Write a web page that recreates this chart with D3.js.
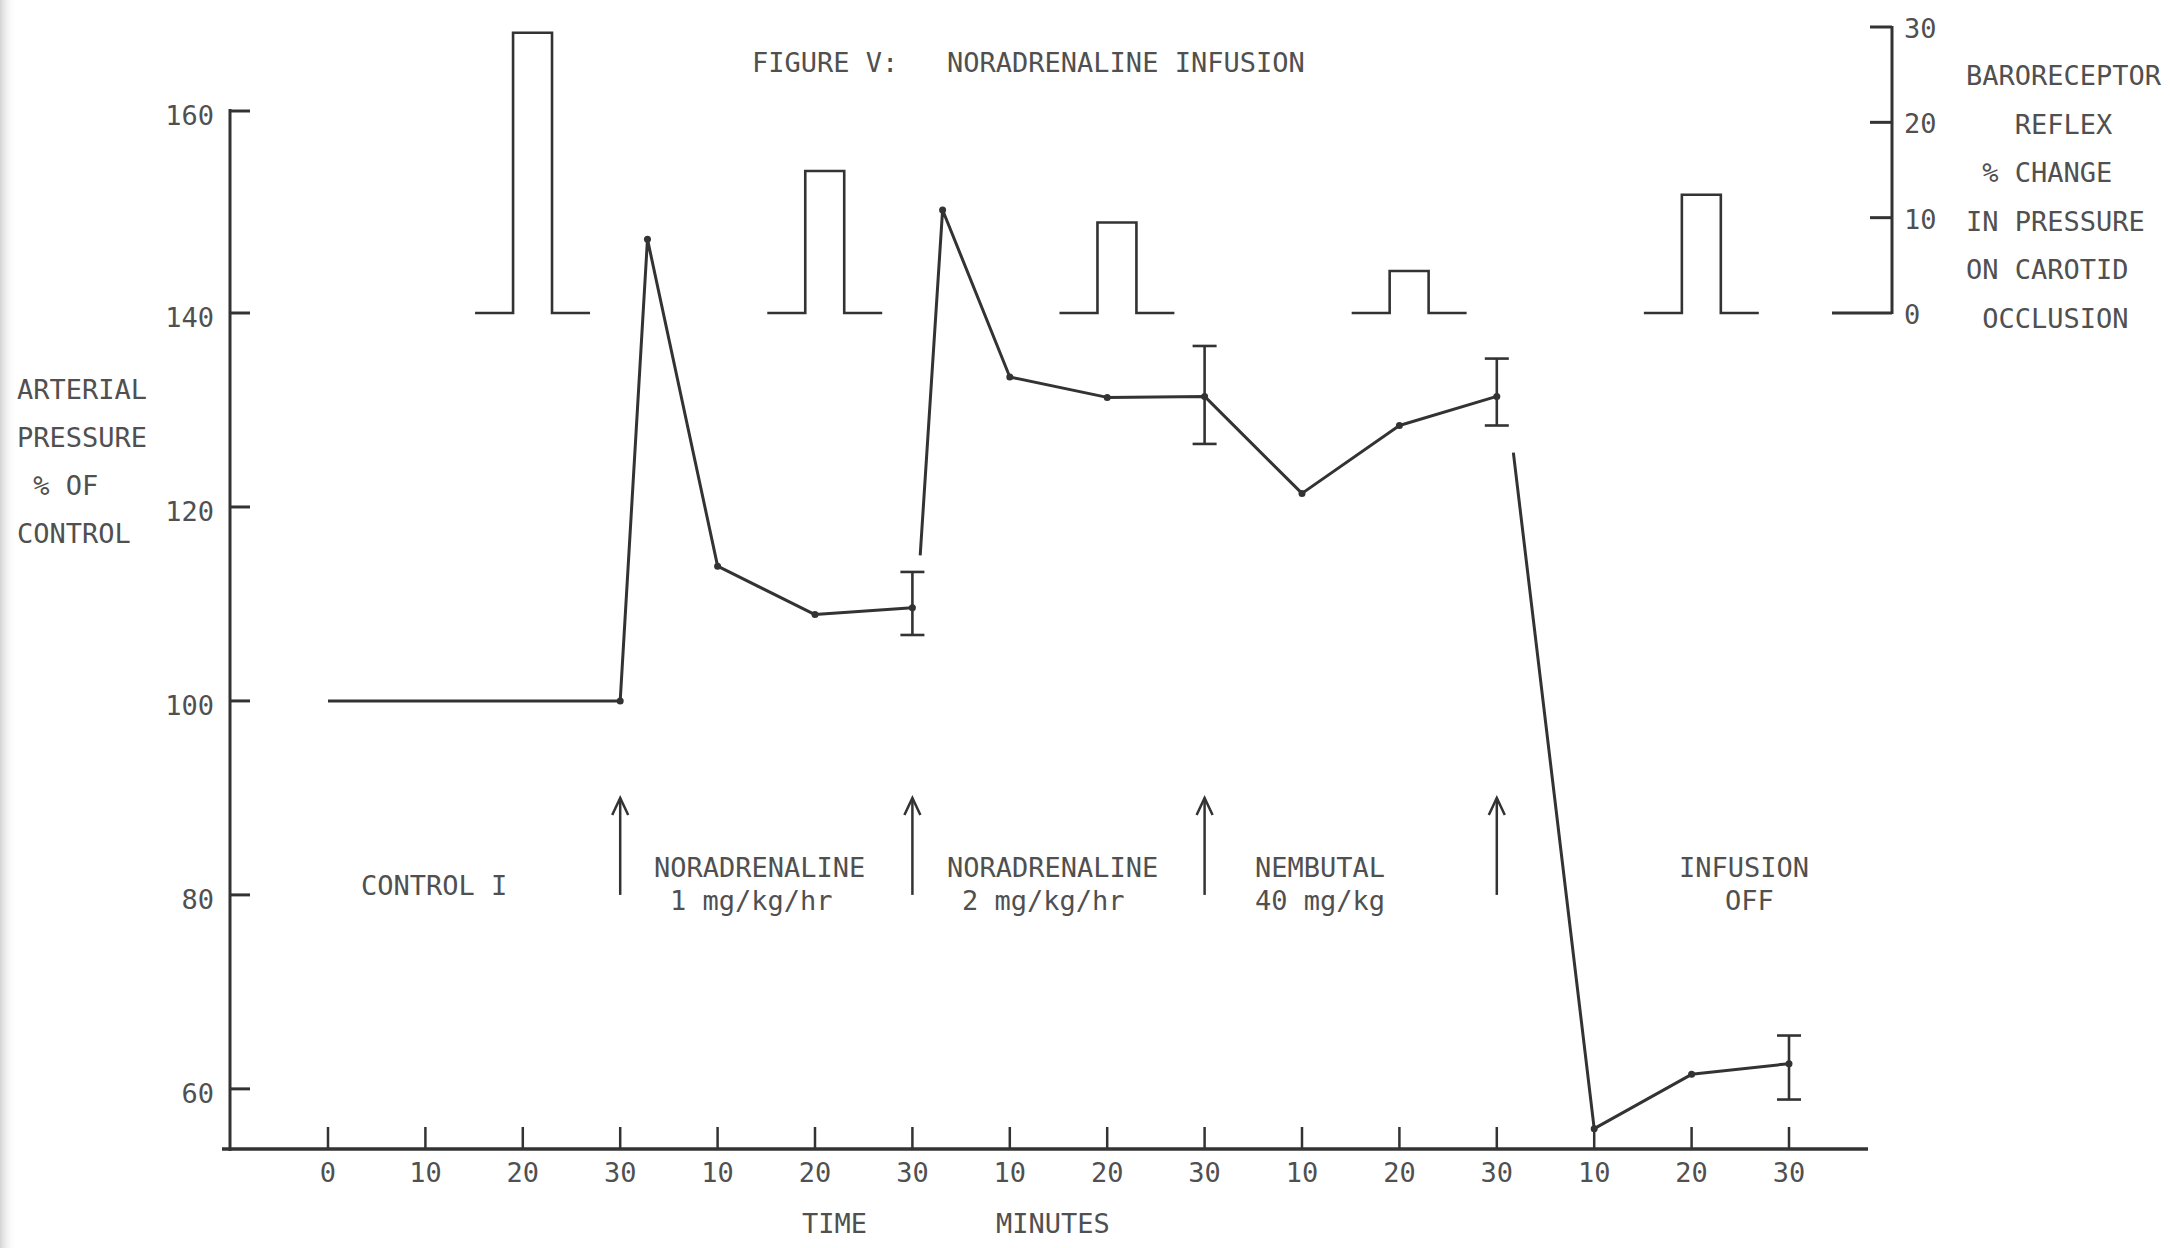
<!DOCTYPE html>
<html>
<head>
<meta charset="utf-8">
<script src="https://cdn.jsdelivr.net/npm/d3@7"></script>
<style>
  html, body { margin: 0; padding: 0; background: #ffffff; }
  svg { display: block; }
  text { font-family: "DejaVu Sans Mono", "Liberation Mono", monospace; font-size: 27px; fill: #505050; white-space: pre; }
</style>
</head>
<body>
<svg id="chart" width="2170" height="1248"></svg>
<script>
// ---- data -------------------------------------------------------------
// time axis: cumulative minutes, each phase labelled 10/20/30 from its start
const timeTicks = [0, 10, 20, 30, 40, 50, 60, 70, 80, 90, 100, 110, 120, 130, 140, 150];
const timeTickLabels = ["0", "10", "20", "30", "10", "20", "30", "10", "20", "30", "10", "20", "30", "10", "20", "30"];

const pressureTicks = [60, 80, 100, 120, 140, 160];
const reflexTicks = [0, 10, 20, 30];

// arterial pressure (% of control), drawn as three separate traces
const controlTrace = [[0, 100], [30, 100], [32.8, 147.3], [40, 113.9], [50, 108.9], [60, 109.6]];
const nor2Trace = [[60.8, 115.0], [63.1, 150.2], [70, 133.4], [80, 131.3], [90, 131.4], [100, 121.4], [110, 128.4], [120, 131.4]];
const offTrace = [[121.7, 125.6], [130, 55.9], [140, 61.5], [150, 62.6]];

// points carrying a small dot
const dotTimes = [30, 32.8, 40, 50, 60, 63.1, 70, 80, 90, 100, 110, 120, 130, 140, 150];

// error bars: time, low, high
const errTimes = [60, 90, 120, 150];
const errLow = [106.8, 126.5, 128.4, 58.9];
const errHigh = [113.3, 136.6, 135.3, 65.5];

// baroreceptor reflex: % change in pressure on carotid occlusion
const reflexTimes = [21, 51, 81, 111, 141];
const reflexValues = [29.4, 14.9, 9.5, 4.4, 12.4];

// infusion changes
const arrowTimes = [30, 60, 90, 120];

const titleText = "FIGURE V:   NORADRENALINE INFUSION";
const leftTitle = ["ARTERIAL", "PRESSURE", " % OF", "CONTROL"];
const rightTitle = ["BARORECEPTOR", "   REFLEX", " % CHANGE", "IN PRESSURE", "ON CAROTID", " OCCLUSION"];
const xTitle = ["TIME", "MINUTES"];

// ---- scales -----------------------------------------------------------
const svg = d3.select("#chart");
const ink = "#333333";

const x = d3.scaleLinear().domain([0, 150]).range([328, 1789]);
// hand-ruled axis: the 140-160 interval is drawn slightly taller
const y = d3.scaleLinear().domain([53.8, 140, 160]).range([1149, 313, 111]);
const yR = d3.scaleLinear().domain([0, 30]).range([313, 27]);

// slight scanner shading along the left edge
const defs = svg.append("defs");
const grad = defs.append("linearGradient").attr("id", "edge").attr("x1", 0).attr("x2", 1);
grad.append("stop").attr("offset", 0).attr("stop-color", "#d4d4d4");
grad.append("stop").attr("offset", 1).attr("stop-color", "#ffffff").attr("stop-opacity", 0);
svg.append("rect").attr("x", 0).attr("y", 0).attr("width", 16).attr("height", 1248).attr("fill", "url(#edge)");

// ---- left axis --------------------------------------------------------
const axisX = 230;
const gLeft = svg.append("g").attr("stroke", ink).attr("stroke-width", 3).attr("fill", "none");
gLeft.append("line").attr("x1", axisX).attr("x2", axisX).attr("y1", y(160) - 2).attr("y2", y(53.8) + 2);
gLeft.selectAll("line.tick").data(pressureTicks).join("line").attr("class", "tick")
  .attr("x1", axisX).attr("x2", axisX + 20)
  .attr("y1", d => y(d)).attr("y2", d => y(d));
svg.selectAll("text.ytick").data(pressureTicks).join("text").attr("class", "ytick")
  .attr("x", 214).attr("y", d => y(d) + 14).attr("text-anchor", "end").text(d => d);

// ---- bottom axis ------------------------------------------------------
const axisY = y(53.8);
const gBot = svg.append("g").attr("stroke", ink).attr("fill", "none");
gBot.append("line").attr("x1", 222).attr("x2", 1868).attr("y1", axisY).attr("y2", axisY).attr("stroke-width", 3.5);
gBot.selectAll("line.tick").data(timeTicks).join("line").attr("class", "tick")
  .attr("x1", d => x(d)).attr("x2", d => x(d))
  .attr("y1", axisY).attr("y2", axisY - 22).attr("stroke-width", 2.5);
svg.selectAll("text.xtick").data(timeTicks).join("text").attr("class", "xtick")
  .attr("x", d => x(d)).attr("y", 1182).attr("text-anchor", "middle")
  .text((d, i) => timeTickLabels[i]);
svg.append("text").attr("x", 802).attr("y", 1233).text(xTitle[0]);
svg.append("text").attr("x", 996).attr("y", 1233).text(xTitle[1]);

// ---- right axis (reflex) ----------------------------------------------
const rAxisX = 1892;
const gRight = svg.append("g").attr("stroke", ink).attr("stroke-width", 3).attr("fill", "none");
gRight.append("line").attr("x1", rAxisX).attr("x2", rAxisX).attr("y1", yR(30) - 1).attr("y2", yR(0) + 1);
gRight.selectAll("line.tick").data(reflexTicks).join("line").attr("class", "tick")
  .attr("x1", d => d === 0 ? rAxisX - 60 : rAxisX - 22).attr("x2", rAxisX)
  .attr("y1", d => yR(d)).attr("y2", d => yR(d));
svg.selectAll("text.rtick").data(reflexTicks).join("text").attr("class", "rtick")
  .attr("x", 1904).attr("y", d => yR(d) + 11).text(d => d);

// ---- titles -----------------------------------------------------------
svg.append("text").attr("x", 752).attr("y", 72).text(titleText);
svg.selectAll("text.ltitle").data(leftTitle).join("text").attr("class", "ltitle")
  .attr("x", 17).attr("y", (d, i) => 399 + i * 48).text(d => d);
svg.selectAll("text.rtitle").data(rightTitle).join("text").attr("class", "rtitle")
  .attr("x", 1966).attr("y", (d, i) => 85 + i * 48.6).text(d => d);

// ---- reflex pulses ----------------------------------------------------
const pulseHalf = 2, baseHalf = 5.9;
svg.append("g").selectAll("path").data(reflexTimes).join("path")
  .attr("fill", "none").attr("stroke", ink).attr("stroke-width", 2.6)
  .attr("d", (t, i) => {
    const v = reflexValues[i];
    return d3.line()([
      [x(t - baseHalf), yR(0)], [x(t - pulseHalf), yR(0)], [x(t - pulseHalf), yR(v)],
      [x(t + pulseHalf), yR(v)], [x(t + pulseHalf), yR(0)], [x(t + baseHalf), yR(0)]
    ]);
  });

// ---- pressure traces --------------------------------------------------
const line = d3.line().x(d => x(d[0])).y(d => y(d[1]));
const allPts = controlTrace.concat(nor2Trace, offTrace);
svg.append("g").selectAll("path").data([controlTrace, nor2Trace, offTrace]).join("path")
  .attr("fill", "none").attr("stroke", ink).attr("stroke-width", 3)
  .attr("stroke-linejoin", "round").attr("d", line);

svg.append("g").selectAll("circle").data(dotTimes).join("circle")
  .attr("cx", t => x(t))
  .attr("cy", t => y(allPts.find(p => p[0] === t)[1]))
  .attr("r", 3.5).attr("fill", ink);

// error bars
const gErr = svg.append("g").attr("stroke", ink).attr("stroke-width", 2.6);
errTimes.forEach((t, i) => {
  gErr.append("line").attr("x1", x(t)).attr("x2", x(t)).attr("y1", y(errLow[i])).attr("y2", y(errHigh[i]));
  gErr.append("line").attr("x1", x(t) - 12).attr("x2", x(t) + 12).attr("y1", y(errLow[i])).attr("y2", y(errLow[i]));
  gErr.append("line").attr("x1", x(t) - 12).attr("x2", x(t) + 12).attr("y1", y(errHigh[i])).attr("y2", y(errHigh[i]));
});

// ---- infusion arrows --------------------------------------------------
const gArr = svg.append("g").attr("stroke", ink).attr("stroke-width", 2.5).attr("fill", "none");
arrowTimes.forEach(t => {
  const ax = x(t), top = y(90), bot = y(80);
  gArr.append("line").attr("x1", ax).attr("x2", ax).attr("y1", top).attr("y2", bot);
  gArr.append("path").attr("d", `M${ax - 8},${top + 17} L${ax},${top} L${ax + 8},${top + 17}`);
});

// ---- phase annotations ------------------------------------------------
const notes = [
  { text: "CONTROL I", x: 361, y: 895 },
  { text: "NORADRENALINE", x: 654, y: 877 },
  { text: "1 mg/kg/hr", x: 670, y: 910 },
  { text: "NORADRENALINE", x: 947, y: 877 },
  { text: "2 mg/kg/hr", x: 962, y: 910 },
  { text: "NEMBUTAL", x: 1255, y: 877 },
  { text: "40 mg/kg", x: 1255, y: 910 },
  { text: "INFUSION", x: 1679, y: 877 },
  { text: "OFF", x: 1725, y: 910 }
];
svg.selectAll("text.note").data(notes).join("text").attr("class", "note")
  .attr("x", d => d.x).attr("y", d => d.y).text(d => d.text);
</script>
</body>
</html>
